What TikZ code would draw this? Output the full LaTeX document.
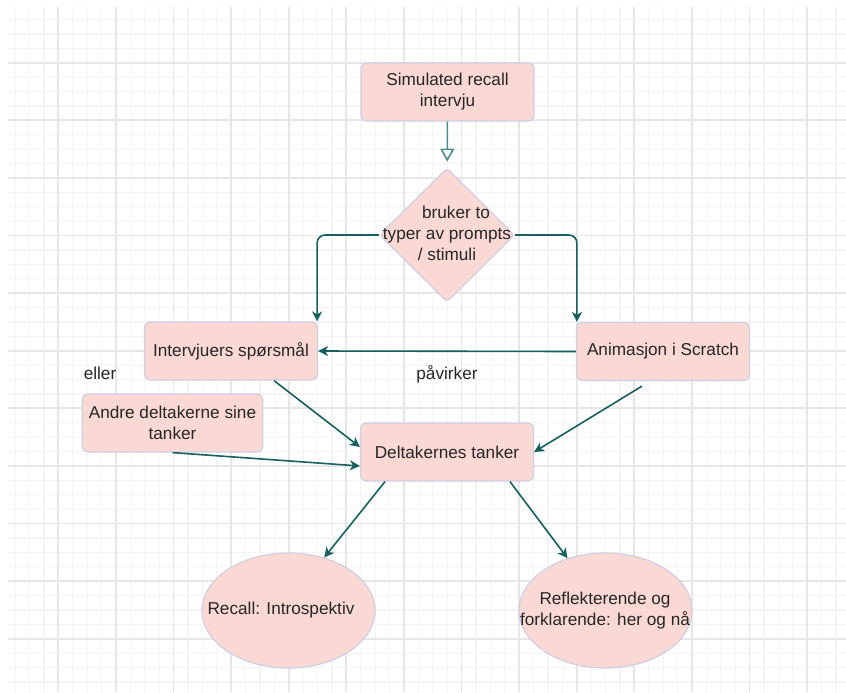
\documentclass[tikz,border=0pt]{standalone}
\usepackage{fontspec}
\setmainfont{Liberation Sans}
\usepackage{xcolor}
\usepackage{tikz}
\usetikzlibrary{positioning, shapes.geometric, arrows.meta}

\definecolor{boxfill}{HTML}{FAD9D5}
\definecolor{boxline}{HTML}{D0CEE2}
\definecolor{edgeteal}{HTML}{17605F}
\definecolor{edgelight}{HTML}{4E8C8C}
\definecolor{textdark}{HTML}{262626}
\definecolor{gridminor}{HTML}{F4F4F4}
\definecolor{gridmajor}{HTML}{E6E6E6}
\newcommand{\diagfont}{\fontsize{8.6}{10.5}\selectfont}

\begin{document}
\begin{tikzpicture}[x=0.5pt, y=-0.5pt,
    box/.style={rectangle, rounded corners=3pt, draw=boxline, fill=boxfill, line width=0.6pt,
                minimum width=86.5pt, minimum height=29pt, align=center, text=textdark, font=\diagfont},
    choicebox/.style={diamond, draw=boxline, fill=boxfill, line width=0.6pt, rounded corners=2pt,
                minimum width=67.5pt, minimum height=67pt, inner sep=0pt},
    oval/.style={ellipse, draw=boxline, fill=boxfill, line width=0.6pt,
                minimum width=86.5pt, minimum height=57.5pt, inner sep=0pt},
    plaintext/.style={align=center, text=textdark, font=\diagfont},
    flow/.style={draw=edgeteal, line width=0.8pt, -{Stealth[length=5pt, width=5pt, inset=1.5pt]}},
    openflow/.style={draw=edgelight, line width=0.8pt, -{Triangle[open, length=6.5pt, width=7pt]}},
    minorline/.style={draw=gridminor, line width=0.6pt},
    majorline/.style={draw=gridmajor, line width=0.9pt}]

    \useasboundingbox (0,0) rectangle (846,692);

    % Draw the background grid
    \begin{scope}
        \clip (8,7) rectangle (846,692);
        \foreach \k in {0,...,59} \draw[minorline] ({0.7+14.4*\k},7) -- ({0.7+14.4*\k},692);
        \foreach \k in {0,...,48} \draw[minorline] (8,{5.1+14.4*\k}) -- (846,{5.1+14.4*\k});
        \foreach \k in {0,...,14} \draw[majorline] ({0.7+57.6*\k},7) -- ({0.7+57.6*\k},692);
        \foreach \k in {0,...,12} \draw[majorline] (8,{5.1+57.6*\k}) -- (846,{5.1+57.6*\k});
    \end{scope}

    % Draw the boxes
    \node[box] (sim) at (447.5,92) {Simulated recall\\intervju};
    \node[choicebox] (choice) at (447,235) {};
    \node[plaintext] (choicetxt) at (447,233) {\hspace*{9pt}bruker to\\typer av prompts\\/ stimuli};
    \node[box] (interv) at (231,351) {Intervjuers spørsmål};
    \node[box] (anim) at (663,351.5) {Animasjon i Scratch};
    \node[box] (andre) at (172.5,423) {Andre deltakerne sine\\tanker};
    \node[box] (delt) at (447,452) {Deltakernes tanker};
    \node[plaintext] (eller) at (100,373) {eller};

    % Draw the two outcomes
    \node[oval] (rec) at (288.5,610.5) {};
    \node[plaintext] (rectxt) at (281,610) {Recall: Introspektiv};
    \node[oval] (refl) at (605.5,610.5) {};
    \node[plaintext] (refltxt) at (605,611) {Reflekterende og\\forklarende: her og nå};

    % Draw the connectors
    \draw[openflow, shorten >=3pt] (sim) -- (choice);
    \draw[flow, rounded corners=4pt] (choice.west) -| ([xshift=-0.5pt]interv.north east);
    \draw[flow, rounded corners=4pt] (choice.east) -| ([xshift=0.5pt]anim.north west);
    \draw[flow] (anim.west) -- (interv.east)
        node[plaintext, midway, below=3.5pt] (paavirker) {påvirker};
    \draw[flow] ([xshift=21.5pt]interv.south) -- ([yshift=2.5pt]delt.west);
    \draw[flow] (andre.south) -- ([yshift=-7pt]delt.west);
    \draw[flow] ([xshift=-10.5pt,yshift=-2.5pt]anim.south) -- (delt.east);
    \draw[flow] ([xshift=-31pt]delt.south) -- (rec.56);
    \draw[flow] ([xshift=31.5pt]delt.south) -- (refl.126);
\end{tikzpicture}
\end{document}
